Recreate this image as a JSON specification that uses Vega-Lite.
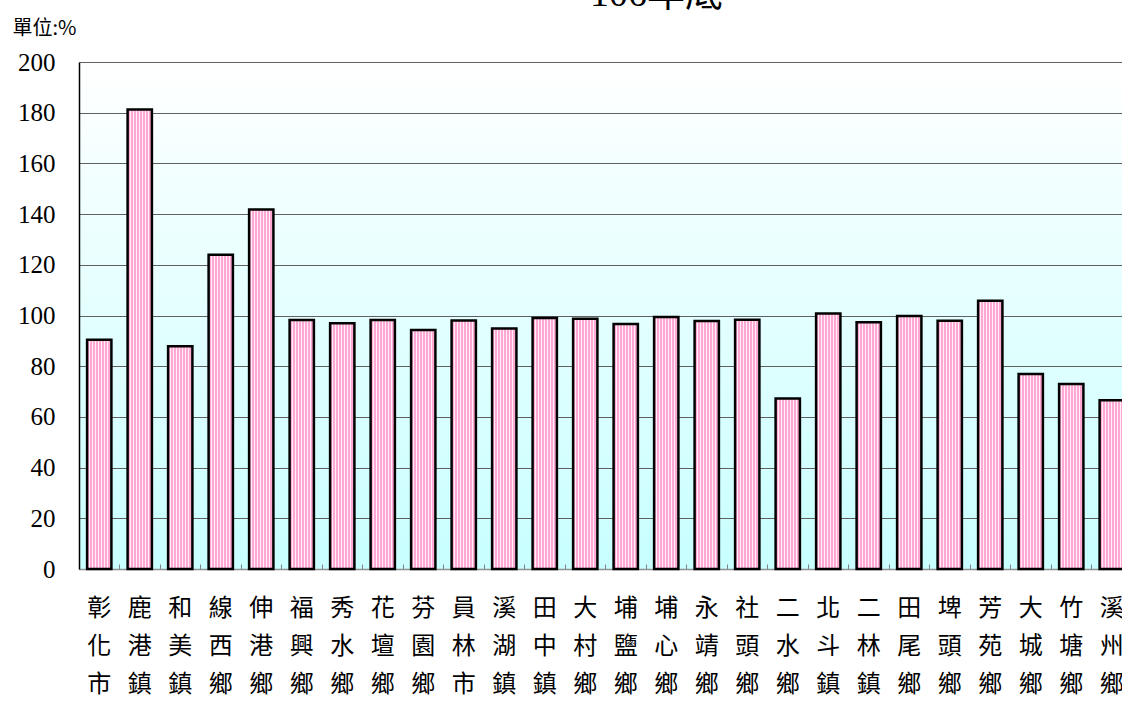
{
  "$schema": "https://vega.github.io/schema/vega-lite/v6.json",
  "autosize": {"type": "none"},
  "width": 1053,
  "height": 507,
  "padding": {"left": 79, "top": 62, "right": 0, "bottom": 135},
  "background": "#ffffff",
  "title": {
    "text": "106年底",
    "font": "Liberation Serif, Noto Sans CJK TC",
    "fontSize": 38,
    "fontWeight": "normal",
    "color": "#000000",
    "anchor": "middle",
    "baseline": "alphabetic",
    "offset": -26,
    "dx": 51
  },
  "config": {
    "view": {
      "stroke": null,
      "fill": {
        "gradient": "linear",
        "x1": 0, "y1": 0, "x2": 0, "y2": 1,
        "stops": [
          {"offset": 0, "color": "#ffffff"},
          {"offset": 1, "color": "#c8ffff"}
        ]
      }
    }
  },
  "data": {
    "values": [
      {"town": "彰化市", "value": 90.4},
      {"town": "鹿港鎮", "value": 181.3},
      {"town": "和美鎮", "value": 87.9},
      {"town": "線西鄉", "value": 124.0},
      {"town": "伸港鄉", "value": 141.8},
      {"town": "福興鄉", "value": 98.2},
      {"town": "秀水鄉", "value": 96.9},
      {"town": "花壇鄉", "value": 98.2},
      {"town": "芬園鄉", "value": 94.3},
      {"town": "員林市", "value": 98.0},
      {"town": "溪湖鎮", "value": 94.9},
      {"town": "田中鎮", "value": 99.0},
      {"town": "大村鄉", "value": 98.7},
      {"town": "埔鹽鄉", "value": 96.6},
      {"town": "埔心鄉", "value": 99.4},
      {"town": "永靖鄉", "value": 97.8},
      {"town": "社頭鄉", "value": 98.3},
      {"town": "二水鄉", "value": 67.3},
      {"town": "北斗鎮", "value": 100.8},
      {"town": "二林鎮", "value": 97.3},
      {"town": "田尾鄉", "value": 99.8},
      {"town": "埤頭鄉", "value": 97.9},
      {"town": "芳苑鄉", "value": 105.8},
      {"town": "大城鄉", "value": 76.9},
      {"town": "竹塘鄉", "value": 73.0},
      {"town": "溪州鄉", "value": 66.6}
    ]
  },
  "mark": {
    "type": "bar",
    "width": {"band": 0.6},
    "stroke": "#000000",
    "strokeWidth": 2.5,
    "fill": {
      "gradient": "linear",
      "x1": 0, "y1": 0, "x2": 1, "y2": 0,
      "stops": [
        {"offset": 0, "color": "#ffa8d4"},
        {"offset": 0.083, "color": "#ffa8d4"},
        {"offset": 0.083, "color": "#ffeef7"},
        {"offset": 0.125, "color": "#ffeef7"},
        {"offset": 0.125, "color": "#ffa8d4"},
        {"offset": 0.208, "color": "#ffa8d4"},
        {"offset": 0.208, "color": "#ffeef7"},
        {"offset": 0.25, "color": "#ffeef7"},
        {"offset": 0.25, "color": "#ffa8d4"},
        {"offset": 0.333, "color": "#ffa8d4"},
        {"offset": 0.333, "color": "#ffeef7"},
        {"offset": 0.375, "color": "#ffeef7"},
        {"offset": 0.375, "color": "#ffa8d4"},
        {"offset": 0.458, "color": "#ffa8d4"},
        {"offset": 0.458, "color": "#ffeef7"},
        {"offset": 0.5, "color": "#ffeef7"},
        {"offset": 0.5, "color": "#ffa8d4"},
        {"offset": 0.583, "color": "#ffa8d4"},
        {"offset": 0.583, "color": "#ffeef7"},
        {"offset": 0.625, "color": "#ffeef7"},
        {"offset": 0.625, "color": "#ffa8d4"},
        {"offset": 0.708, "color": "#ffa8d4"},
        {"offset": 0.708, "color": "#ffeef7"},
        {"offset": 0.75, "color": "#ffeef7"},
        {"offset": 0.75, "color": "#ffa8d4"},
        {"offset": 0.833, "color": "#ffa8d4"},
        {"offset": 0.833, "color": "#ffeef7"},
        {"offset": 0.875, "color": "#ffeef7"},
        {"offset": 0.875, "color": "#ffa8d4"},
        {"offset": 0.958, "color": "#ffa8d4"},
        {"offset": 0.958, "color": "#ffeef7"},
        {"offset": 1, "color": "#ffeef7"}
      ]
    }
  },
  "encoding": {
    "x": {
      "field": "town",
      "type": "nominal",
      "sort": null,
      "scale": {"paddingInner": 0, "paddingOuter": 0},
      "axis": {
        "title": null,
        "labelAngle": 0,
        "labelExpr": "split(datum.label, '')",
        "labelFont": "Noto Sans CJK TC",
        "labelFontSize": 24,
        "labelColor": "#000000",
        "labelLineHeight": 38,
        "labelBaseline": "top",
        "labelPadding": 32,
        "bandPosition": 0,
        "ticks": true,
        "tickSize": -5,
        "tickColor": "#808080",
        "tickWidth": 1,
        "domainColor": "#909090",
        "domainWidth": 1.5,
        "grid": false
      }
    },
    "y": {
      "field": "value",
      "type": "quantitative",
      "scale": {"domain": [0, 200], "nice": false},
      "axis": {
        "values": [0, 20, 40, 60, 80, 100, 120, 140, 160, 180, 200],
        "title": "單位:%",
        "titleAngle": 0,
        "titleAlign": "left",
        "titleBaseline": "alphabetic",
        "titleX": -67,
        "titleY": -28,
        "titleFont": "Noto Sans CJK TC",
        "titleFontSize": 20,
        "titleFontWeight": "normal",
        "titleColor": "#000000",
        "labelFont": "Liberation Serif",
        "labelFontSize": 25,
        "labelColor": "#000000",
        "labelPadding": 24,
        "ticks": false,
        "domainColor": "#000000",
        "domainWidth": 1.5,
        "grid": true,
        "gridColor": "#606060",
        "gridWidth": 1
      }
    }
  }
}
